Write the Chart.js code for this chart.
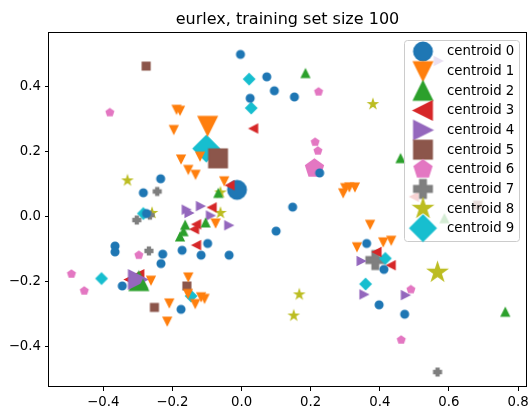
<!DOCTYPE html>
<html lang="en">
  <head>
    <meta charset="UTF-8" />
    <title>eurlex, training set size 100</title>
    <style>
      html, body { margin: 0; padding: 0; background: #fff; }
    </style>
  </head>
  <body>
    <canvas id="scatterChart" width="529" height="410"></canvas>
    <script src="https://cdn.jsdelivr.net/npm/chart.js@4"></script>
    <script>
      // points per class, [x, y]
      const class0 = [
        [-0.003, 0.498], [0.073, 0.429], [0.095, 0.386], [0.025, 0.363], [0.153, 0.367],
        [0.226, 0.133], [0.148, 0.028], [-0.234, 0.115], [-0.284, 0.072], [-0.275, 0.008],
        [-0.366, -0.092], [-0.366, -0.11], [-0.228, -0.117], [-0.233, -0.146], [-0.172, -0.105],
        [-0.098, -0.084], [-0.117, -0.12], [-0.036, -0.12], [-0.345, -0.215], [-0.175, -0.287],
        [0.1, -0.046], [0.362, -0.084], [0.412, -0.164], [0.398, -0.273], [0.472, -0.302],
      ];
      const class1 = [
        [-0.188, 0.329], [-0.178, 0.326], [-0.196, 0.267], [-0.175, 0.176], [-0.12, 0.185],
        [-0.154, 0.144], [-0.133, 0.129], [-0.05, 0.109], [-0.075, -0.021], [0.294, 0.072],
        [0.3, 0.088], [0.312, 0.09], [0.328, 0.09], [-0.262, -0.197], [-0.209, -0.267],
        [-0.215, -0.323], [-0.154, -0.187], [-0.155, -0.238], [-0.134, -0.269], [-0.117, -0.248],
        [-0.107, -0.253], [0.372, -0.025], [0.334, -0.094], [0.41, -0.079], [0.433, -0.074],
      ];
      const class2 = [
        [0.185, 0.439], [0.46, 0.177], [0.763, -0.296], [-0.067, 0.07], [-0.104, -0.021],
        [-0.163, -0.028], [-0.168, -0.048], [-0.178, -0.064], [-0.285, -0.21], [0.587, -0.008],
      ];
      const class3 = [
        [0.035, 0.27], [-0.033, 0.095], [-0.085, 0.027], [-0.13, -0.025], [-0.136, -0.04],
        [-0.13, -0.089], [0.392, -0.11], [0.433, -0.151], [0.5, 0.06],
      ];
      const class4 = [
        [-0.16, 0.02], [-0.152, 0.01], [-0.119, 0.031], [-0.09, 0.002], [-0.037, -0.028],
        [0.346, -0.138], [0.354, -0.241], [0.474, -0.243], [0.569, 0.478],
      ];
      const class5 = [[-0.276, 0.462], [-0.252, -0.281], [-0.158, -0.215], [0.683, 0.034]];
      const class6 = [
        [-0.381, 0.319], [0.223, 0.383], [0.213, 0.228], [0.221, 0.201], [-0.297, -0.12],
        [-0.492, -0.178], [-0.455, -0.23], [0.49, -0.226], [0.462, -0.381],
      ];
      const class7 = [[-0.244, 0.076], [-0.303, -0.012], [-0.265, 0.003], [-0.268, -0.107], [0.567, -0.48]];
      const class8 = [
        [-0.33, 0.11], [-0.061, 0.073], [-0.259, 0.01], [-0.061, 0.01], [0.38, 0.345],
        [0.167, -0.241], [0.151, -0.306],
      ];
      const class9 = [
        [0.022, 0.422], [0.028, 0.333], [-0.284, 0.008], [-0.405, -0.192], [-0.146, -0.246],
        [0.416, -0.13], [0.359, -0.209],
      ];
      const centroidX = [-0.013, -0.098, -0.297, -0.31, -0.3, -0.068, 0.211, 0.387, 0.567, -0.102];
      const centroidY = [0.081, 0.278, -0.2, -0.195, -0.195, 0.178, 0.147, -0.135, -0.173, 0.208];
      const centroidLabels = ['centroid 0', 'centroid 1', 'centroid 2', 'centroid 3', 'centroid 4',
        'centroid 5', 'centroid 6', 'centroid 7', 'centroid 8', 'centroid 9'];
      const xTicks = [-0.4, -0.2, 0.0, 0.2, 0.4, 0.6, 0.8];
      const yTicks = [-0.4, -0.2, 0.0, 0.2, 0.4];

      const classPoints = [class0, class1, class2, class3, class4, class5, class6, class7, class8, class9];
      const colors = ['#1f77b4', '#ff7f0e', '#2ca02c', '#d62728', '#9467bd',
        '#8c564b', '#e377c2', '#7f7f7f', '#bcbd22', '#17becf'];
      const shapes = ['o', 'v', '^', '<', '>', 's', 'p', 'P', '*', 'D'];
      // which centroid sits on top (lower = drawn later)
      const centroidOrder = [12, 13, 14, 15, 10, 11, 16, 17, 18, 19];
      const SMALL = 7.2;
      const BIG = 18;
      const FONT = 'DejaVu Sans';

      // matplotlib-like filled markers drawn on little canvases
      const makeMarker = (shape, size, color) => {
        const lw = 1.9;
        const dim = Math.ceil(size * 1.6 + lw * 2) + 2;
        const c = document.createElement('canvas');
        c.width = dim;
        c.height = dim;
        const g = c.getContext('2d');
        g.translate(dim / 2, dim / 2);
        const h = size / 2;
        g.beginPath();
        if (shape === 'o') {
          g.arc(0, 0, h, 0, Math.PI * 2);
        } else if (shape === 'v') {
          g.moveTo(0, h); g.lineTo(-h, -h); g.lineTo(h, -h);
        } else if (shape === '^') {
          g.moveTo(0, -h); g.lineTo(-h, h); g.lineTo(h, h);
        } else if (shape === '<') {
          g.moveTo(-h, 0); g.lineTo(h, -h); g.lineTo(h, h);
        } else if (shape === '>') {
          g.moveTo(h, 0); g.lineTo(-h, -h); g.lineTo(-h, h);
        } else if (shape === 's') {
          g.rect(-h, -h, size, size);
        } else if (shape === 'D') {
          const d = h * Math.SQRT2;
          g.moveTo(0, -d); g.lineTo(d, 0); g.lineTo(0, d); g.lineTo(-d, 0);
        } else if (shape === 'p') {
          for (let k = 0; k < 5; k++) {
            const a = -Math.PI / 2 + (k * 2 * Math.PI) / 5;
            g.lineTo(h * Math.cos(a), h * Math.sin(a));
          }
        } else if (shape === '*') {
          for (let k = 0; k < 10; k++) {
            const a = -Math.PI / 2 + (k * Math.PI) / 5;
            const r = k % 2 ? h * 0.381966 : h;
            g.lineTo(r * Math.cos(a), r * Math.sin(a));
          }
        } else if (shape === 'P') {
          const a = size / 6;
          const pts = [[-a, -h], [a, -h], [a, -a], [h, -a], [h, a], [a, a], [a, h], [-a, h], [-a, a], [-h, a], [-h, -a], [-a, -a]];
          pts.forEach(([px, py]) => g.lineTo(px, py));
        }
        g.closePath();
        g.fillStyle = color;
        g.strokeStyle = color;
        g.lineWidth = lw;
        g.lineJoin = 'miter';
        g.fill();
        g.stroke();
        return c;
      };

      const bigMarkers = shapes.map((s, i) => makeMarker(s, BIG, colors[i]));

      const datasets = [];
      classPoints.forEach((pts, i) => {
        datasets.push({
          label: 'class ' + i,
          data: pts.map(([x, y]) => ({ x, y })),
          pointStyle: makeMarker(shapes[i], SMALL, colors[i]),
          pointRadius: 4,
          pointHoverRadius: 4,
          order: i,
        });
      });
      centroidX.forEach((x, i) => {
        datasets.push({
          label: centroidLabels[i],
          data: [{ x, y: centroidY[i] }],
          pointStyle: bigMarkers[i],
          pointRadius: 9,
          pointHoverRadius: 9,
          order: centroidOrder[i],
        });
      });

      const fmt = (v) => {
        const s = Math.abs(v).toFixed(1);
        return v < -1e-9 ? '\u2212' + s : s;
      };

      // axes frame on top of the points, like matplotlib spines
      const spines = {
        id: 'spines',
        afterDatasetsDraw(chart) {
          const { ctx, chartArea: a } = chart;
          ctx.save();
          ctx.strokeStyle = '#000';
          ctx.lineWidth = 1;
          ctx.strokeRect(Math.round(a.left) - 0.5, Math.round(a.top) + 0.5,
            Math.round(a.right - a.left) + 1, Math.round(a.bottom - a.top) - 1);
          ctx.restore();
        },
      };

      // legend box in the upper right corner of the plot
      const legendBox = {
        id: 'legendBox',
        afterDraw(chart) {
          const { ctx, chartArea: a } = chart;
          const w = 115, h = 201, rowH = 19.63;
          const x0 = Math.round(a.right) - 7 - w + 0.5;
          const y0 = Math.round(a.top) + 8 + 0.5;
          const r = 3;
          ctx.save();
          ctx.beginPath();
          ctx.moveTo(x0 + r, y0);
          ctx.arcTo(x0 + w, y0, x0 + w, y0 + h, r);
          ctx.arcTo(x0 + w, y0 + h, x0, y0 + h, r);
          ctx.arcTo(x0, y0 + h, x0, y0, r);
          ctx.arcTo(x0, y0, x0 + w, y0, r);
          ctx.closePath();
          ctx.fillStyle = 'rgba(255,255,255,0.8)';
          ctx.fill();
          ctx.strokeStyle = '#cccccc';
          ctx.lineWidth = 1;
          ctx.stroke();
          ctx.font = '13.3px "' + FONT + '"';
          ctx.fillStyle = '#000';
          ctx.textBaseline = 'middle';
          ctx.textAlign = 'left';
          centroidLabels.forEach((lab, i) => {
            const cy = y0 + 11 + i * rowH;
            const m = bigMarkers[i];
            ctx.drawImage(m, x0 + 18.5 - m.width / 2, cy - m.height / 2);
            ctx.fillText(lab, x0 + 42.5, cy + 0.5);
          });
          ctx.restore();
        },
      };

      const tickFont = { family: FONT, size: 13.3 };

      new Chart(document.getElementById('scatterChart').getContext('2d'), {
        type: 'scatter',
        data: { datasets },
        options: {
          responsive: false,
          animation: false,
          events: [],
          layout: { autoPadding: false, padding: { left: 0, right: 3, top: 0, bottom: 0 } },
          plugins: {
            legend: { display: false },
            tooltip: { enabled: false },
            title: {
              display: true,
              fullSize: false,
              text: 'eurlex, training set size 100',
              color: '#000',
              font: { family: FONT, size: 16, weight: 'normal' },
              padding: { top: 10.5, bottom: 2.3 },
            },
          },
          scales: {
            x: {
              type: 'linear',
              min: -0.557,
              max: 0.823,
              afterBuildTicks: (s) => { s.ticks = xTicks.map((v) => ({ value: v })); },
              afterFit: (s) => { s.height = 23; s.paddingLeft = 0; s.paddingRight = 0; },
              grid: { drawOnChartArea: false, color: '#000', tickLength: 4, lineWidth: 1 },
              border: { display: false },
              ticks: { color: '#000', font: tickFont, padding: 4, maxRotation: 0, callback: fmt },
            },
            y: {
              type: 'linear',
              min: -0.526,
              max: 0.567,
              afterBuildTicks: (s) => { s.ticks = yTicks.map((v) => ({ value: v })); },
              afterFit: (s) => { s.width = 49; s.paddingTop = 0; s.paddingBottom = 0; },
              grid: { drawOnChartArea: false, color: '#000', tickLength: 4, lineWidth: 1 },
              border: { display: false },
              ticks: { color: '#000', font: tickFont, padding: 4, callback: fmt },
            },
          },
        },
        plugins: [spines, legendBox],
      });
    </script>
  </body>
</html>
